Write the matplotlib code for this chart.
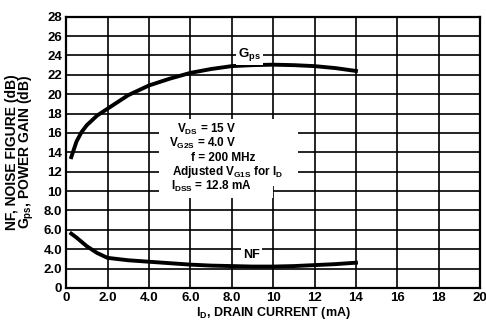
import matplotlib.pyplot as plt

plt.rcParams['font.family'] = ['Liberation Sans', 'DejaVu Sans']
plt.rcParams['font.weight'] = 'bold'
plt.rcParams['axes.labelweight'] = 'bold'
plt.rcParams['mathtext.fontset'] = 'custom'
plt.rcParams['mathtext.rm'] = 'Liberation Sans:bold'
plt.rcParams['mathtext.it'] = 'Liberation Sans:bold'
plt.rcParams['mathtext.bf'] = 'Liberation Sans:bold'

# power gain and noise figure vs drain current
id_ma = [0.25, 0.5, 0.75, 1.0, 1.5, 2.0, 3.0, 4.0, 5.0, 6.0, 7.0, 8.0, 9.0, 10.0, 11.0, 12.0, 13.0, 14.0]
gps_db = [13.5, 15.1, 16.1, 16.8, 17.8, 18.5, 19.9, 20.9, 21.6, 22.2, 22.6, 22.9, 23.0, 23.05, 23.0, 22.9, 22.7, 22.4]
nf_db = [5.6, 5.2, 4.75, 4.3, 3.6, 3.1, 2.85, 2.7, 2.55, 2.4, 2.3, 2.25, 2.2, 2.2, 2.25, 2.35, 2.45, 2.6]

x_ticks = [0, 2, 4, 6, 8, 10, 12, 14, 16, 18, 20]
x_labels = ["0", "2.0", "4.0", "6.0", "8.0", "10", "12", "14", "16", "18", "20"]
y_ticks = list(range(0, 29, 2))
y_labels = ["0", "2.0", "4.0", "6.0", "8.0", "10", "12", "14", "16", "18", "20", "22", "24", "26", "28"]

fig = plt.figure(figsize=(4.86, 3.22), dpi=100)
ax = fig.add_axes([0.136, 0.106, 0.852, 0.842])

ax.set_xlim(0, 20)
ax.set_ylim(0, 28)
ax.set_xticks(x_ticks, x_labels, fontsize=9.5)
ax.set_yticks(y_ticks, y_labels, fontsize=9.5)
ax.tick_params(length=0, pad=3)
ax.grid(True, color='black', linewidth=1.2)
for s in ax.spines.values():
    s.set_linewidth(1.6)

ax.plot(id_ma, gps_db, color='black', linewidth=2.8, zorder=4)
ax.plot(id_ma, nf_db, color='black', linewidth=2.8, zorder=4)

# clear the grid behind the test-condition block
ax.add_patch(plt.Rectangle((4.5, 10.5), 6.7, 6.9, facecolor='white', edgecolor='none', zorder=3))
ax.add_patch(plt.Rectangle((4.5, 9.3), 5.5, 1.3, facecolor='white', edgecolor='none', zorder=3))

cond = dict(fontsize=8.5, ha='center', va='center', zorder=5)
ax.text(6.8, 16.4, r"V$_{\mathrm{DS}}$ = 15 V", **cond)
ax.text(6.6, 14.9, r"V$_{\mathrm{G2S}}$ = 4.0 V", **cond)
ax.text(7.6, 13.4, "f = 200 MHz", **cond)
ax.text(7.8, 12.0, r"Adjusted V$_{\mathrm{G1S}}$ for I$_{\mathrm{D}}$", **cond)
ax.text(7.0, 10.5, r"I$_{\mathrm{DSS}}$ = 12.8 mA", **cond)

box = dict(facecolor='white', edgecolor='none', pad=1.5)
ax.text(8.85, 24.1, r"G$_{\mathrm{ps}}$", fontsize=9.5, ha='center', va='center', bbox=box, zorder=5)
ax.text(8.95, 3.4, "NF", fontsize=9, ha='center', va='center', bbox=box, zorder=5)

ax.set_xlabel(r"I$_{\mathrm{D}}$, DRAIN CURRENT (mA)", fontsize=9, labelpad=1)
ax.set_ylabel("NF, NOISE FIGURE (dB)\n" + r"G$_{\mathrm{ps}}$, POWER GAIN (dB)",
              fontsize=10, linespacing=0.85, labelpad=5)

fig.savefig("out.png", dpi=100)
